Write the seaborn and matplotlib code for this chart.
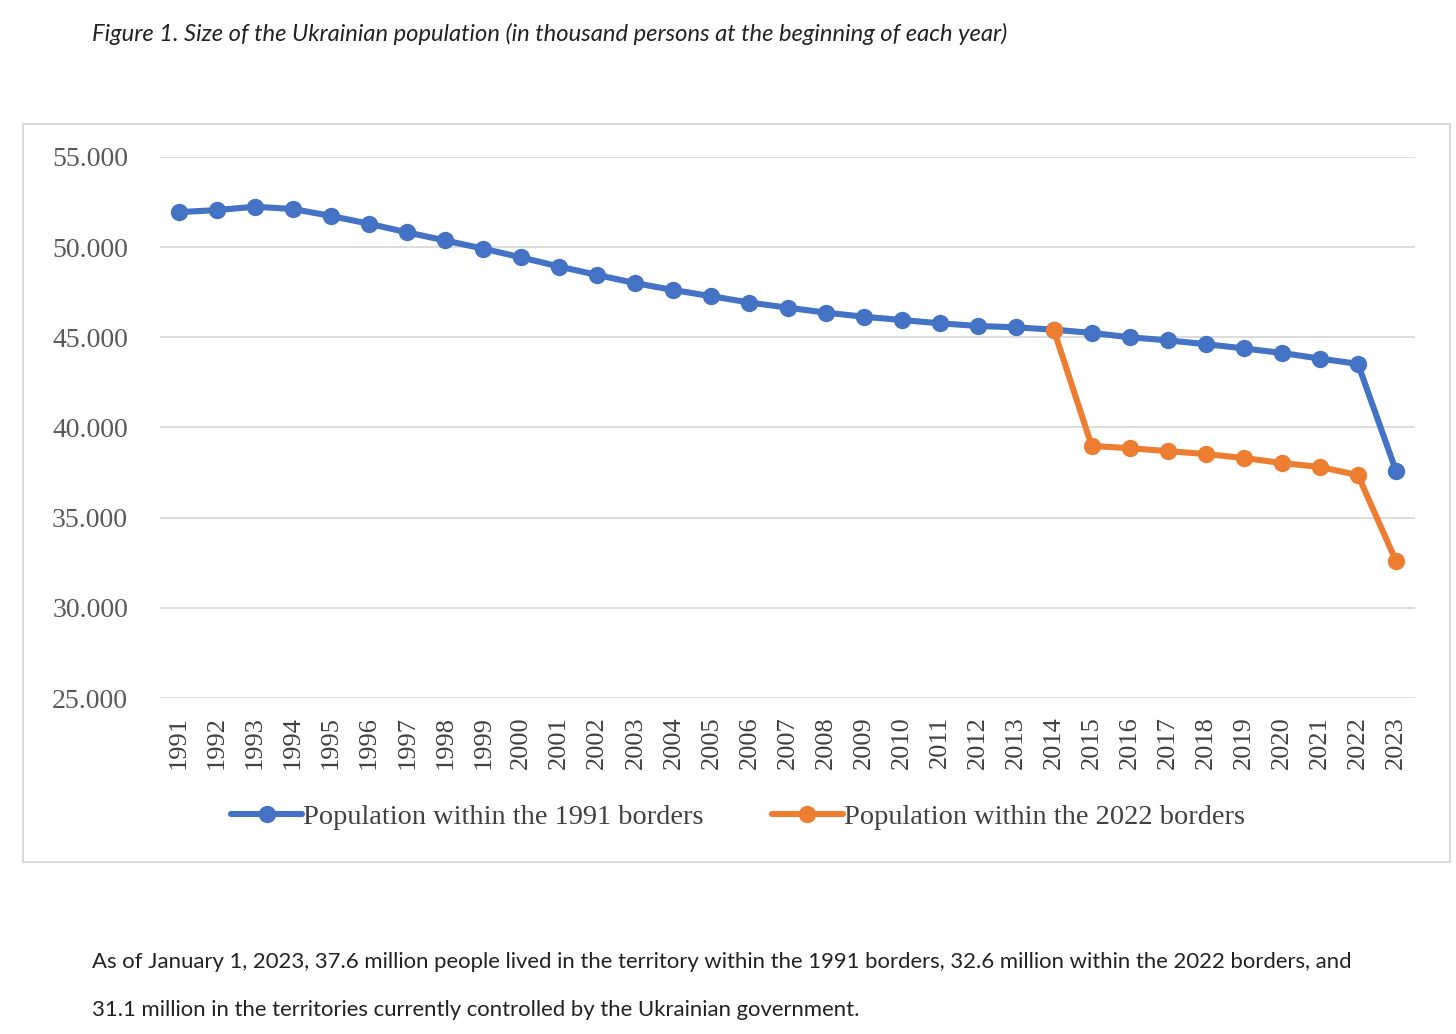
import numpy as np
import pandas as pd
import matplotlib
matplotlib.use("Agg")
import matplotlib.pyplot as plt
from matplotlib.patches import Rectangle
from matplotlib.ticker import FuncFormatter
import seaborn as sns

# population, thousand persons, at the beginning of each year
years = list(range(1991, 2024))
pop_1991_borders = [51944, 52056, 52244, 52114, 51728, 51297, 50818, 50370, 49918, 49429,
                    48923, 48457, 48004, 47622, 47280, 46930, 46646, 46373, 46143, 45963,
                    45778, 45633, 45553, 45426, 45246, 45004, 44831, 44622, 44386, 44132,
                    43822, 43528, 37600]
years_2022 = list(range(2014, 2024))
pop_2022_borders = [45426, 38980, 38850, 38690, 38530, 38310, 38030, 37810, 37360, 32600]

label_1991 = "Population within the 1991 borders"
label_2022 = "Population within the 2022 borders"
blue = "#4472C4"
orange = "#ED7D31"

df1 = pd.DataFrame({"year": years, "pop": pop_1991_borders})
df2 = pd.DataFrame({"year": years_2022, "pop": pop_2022_borders})

sns.set_style("white")
plt.rcParams['font.family'] = ['Liberation Serif', 'DejaVu Serif']

fig = plt.figure(figsize=(14.56, 10.34), dpi=100)
ax = fig.add_axes([160/1456, 1-698/1034, (1415-160)/1456, (698-157)/1034])

sns.lineplot(data=df1, x="year", y="pop", ax=ax, color=blue, linewidth=4.4,
             marker="o", markersize=12.5, markeredgewidth=0, label=label_1991)
sns.lineplot(data=df2, x="year", y="pop", ax=ax, color=orange, linewidth=4.4,
             marker="o", markersize=12.5, markeredgewidth=0, label=label_2022)

ax.set_xlim(1990.5, 2023.5)
ax.set_ylim(25000, 55000)
ax.set_yticks(np.arange(25000, 55001, 5000))
ax.yaxis.set_major_formatter(FuncFormatter(lambda v, p: f"{int(v):,}".replace(",", ".")))
ax.set_xticks(years)
ax.set_xticklabels([str(y) for y in years], rotation=90)
ax.grid(axis="y", color="#D9D9D9", linewidth=1.3)
ax.set_axisbelow(True)
for s in ax.spines.values():
    s.set_visible(False)
ax.tick_params(axis="y", length=0, pad=23, labelsize=20, labelcolor="#595959")
ax.tick_params(axis="x", length=0, pad=13, labelsize=19, labelcolor="#404040")
ax.set_xlabel("")
ax.set_ylabel("")

handles, labels = ax.get_legend_handles_labels()
ax.legend_.remove()
fig.legend(handles, labels, loc="center", bbox_to_anchor=(0.507, 1-817/1034), ncol=2,
           frameon=False, fontsize=20.4, handlelength=2.5, handletextpad=0.05,
           columnspacing=2.4, labelcolor="#404040")

# chart frame
fig.patches.append(Rectangle((23/1456, 1-862/1034), (1450-23)/1456, (862-124)/1034,
                             transform=fig.transFigure, fill=False,
                             edgecolor="#D9D9D9", linewidth=1.5))

fig.text(92/1456, 1-34/1034,
         "Figure 1. Size of the Ukrainian population (in thousand persons at the beginning of each year)",
         family=["Lato", "DejaVu Sans"], style="italic", fontsize=17.1, color="#222222",
         va="center", ha="left")
fig.text(92/1456, 1-962/1034,
         "As of January 1, 2023, 37.6 million people lived in the territory within the 1991 borders, "
         "32.6 million within the 2022 borders, and",
         family=["Lato", "DejaVu Sans"], fontsize=15.97, color="#222222", va="center", ha="left")
fig.text(92/1456, 1-1010/1034,
         "31.1 million in the territories currently controlled by the Ukrainian government.",
         family=["Lato", "DejaVu Sans"], fontsize=15.97, color="#222222", va="center", ha="left")

fig.savefig("out.png", dpi=100, facecolor="white")
